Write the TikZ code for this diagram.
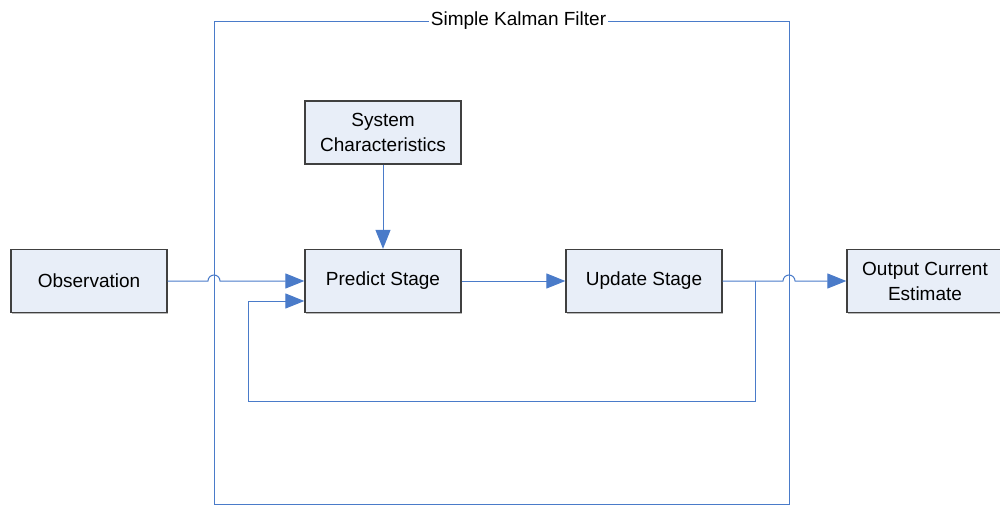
\documentclass[tikz,border=0pt]{standalone}
\usepackage{fontspec}
\setmainfont{Liberation Sans}
\usetikzlibrary{arrows.meta,shadows}
\definecolor{flowblue}{HTML}{4A7BC9}
\definecolor{boxfill}{HTML}{E8EEF8}
\definecolor{boxline}{HTML}{404040}
\begin{document}
\begin{tikzpicture}[x=1pt,y=-1pt,
  block/.style={draw=boxline,line width=1.3pt,fill=boxfill,
    minimum width=156pt,minimum height=63pt,inner sep=2pt,
    align=center,font=\fontsize{19}{25}\selectfont,
    drop shadow={shadow xshift=1.2pt,shadow yshift=-1.2pt,fill=gray!70,opacity=0.8}},
  flow/.style={draw=flowblue,line width=1pt,
    -{Triangle[length=19pt,width=15pt]}},
  wire/.style={draw=flowblue,line width=1pt},
  frame/.style={draw=flowblue,line width=1pt}]
\useasboundingbox (0,0) rectangle (1000,506);

% outer frame of the filter
\coordinate (fl) at (214,21);
\coordinate (fr) at (789,504);
\draw[frame] (fl) rectangle (fr);
\node[fill=white,inner xsep=1.5pt,inner ysep=1pt,font=\fontsize{19}{23}\selectfont]
  (title) at (518.5,21) {Simple Kalman Filter};

% blocks
\node[block] (obs)  at (89,281)  {Observation};
\node[block] (sys)  at (383,132.5) {System\\Characteristics};
\node[block] (pred) at (383,281) {Predict Stage};
\node[block] (upd)  at (644,281)  {Update Stage};
\node[block] (out)  at (925,281)  {Output Current\\Estimate};

% connectors
\draw[flow] (sys.south) -- (pred.north);
\draw[flow] (obs.east) -- ([xshift=-6pt]fl |- obs.east)
  arc[start angle=180,end angle=0,radius=6pt] -- (pred.west);
\draw[flow] (pred.east) -- (upd.west);
\draw[flow] (upd.east) -- ([xshift=-6pt]fr |- upd.east)
  arc[start angle=180,end angle=0,radius=6pt] -- (out.west);

% feedback loop
\coordinate (tap) at (755,281);
\coordinate (loopbl) at (248,401);
\draw[wire] (tap) -- (tap |- loopbl) -- (loopbl);
\draw[flow] (loopbl) -- (248,301) -- ([yshift=-20pt]pred.west);
\end{tikzpicture}
\end{document}
